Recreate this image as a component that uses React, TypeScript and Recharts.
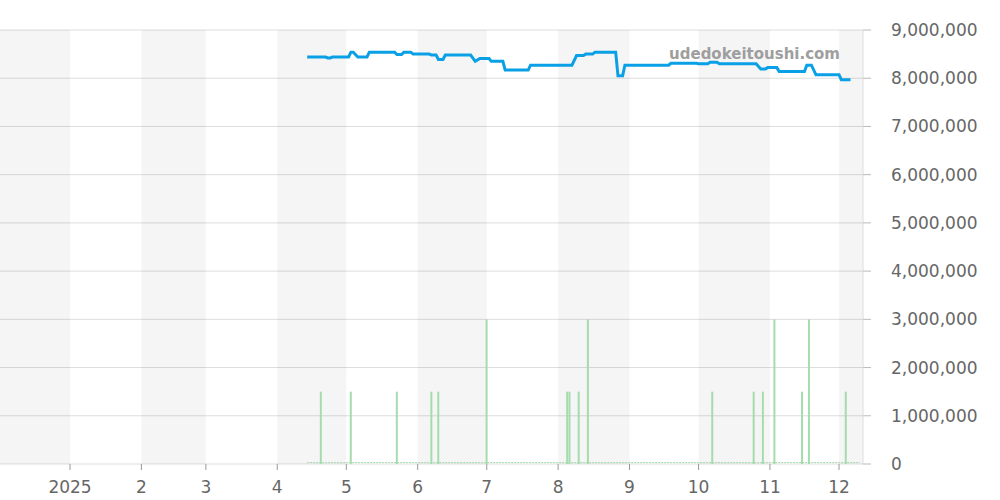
import { Bar, CartesianGrid, ComposedChart, Line, ReferenceArea, ReferenceLine, XAxis, YAxis } from 'recharts'

// price levels: each level runs from levelFrom to levelTo (2025 dates)
const levelFrom = [
  '04-14', '04-23', '04-25', '05-03', '05-06', '05-11', '05-23', '05-26', '05-30', '06-07',
  '06-10', '06-13', '06-26', '06-28', '07-03', '07-09', '07-20', '08-09', '08-13', '08-17',
  '08-27', '08-30', '09-19', '10-01', '10-06', '10-10', '10-28', '10-31', '11-05', '11-17',
  '11-21', '12-02',
]
const levelTo = [
  '04-22', '04-24', '05-02', '05-04', '05-10', '05-22', '05-25', '05-29', '06-06', '06-09',
  '06-12', '06-24', '06-26', '07-02', '07-08', '07-19', '08-07', '08-12', '08-16', '08-26',
  '08-29', '09-18', '09-30', '10-05', '10-09', '10-26', '10-30', '11-04', '11-16', '11-19',
  '12-01', '12-06',
]
const levelPrice = [
  8440000, 8420000, 8440000, 8540000, 8440000, 8540000, 8490000, 8540000, 8500000, 8480000,
  8390000, 8480000, 8350000, 8410000, 8350000, 8170000, 8270000, 8470000, 8500000, 8540000,
  8050000, 8270000, 8310000, 8300000, 8330000, 8300000, 8190000, 8220000, 8140000, 8270000,
  8070000, 7970000,
]

// volume spikes
const volDates = [
  '04-20', '05-03', '05-23', '06-07', '06-10', '07-01', '08-05', '08-06', '08-10', '08-14',
  '10-07', '10-25', '10-29', '11-03', '11-15', '11-18', '12-04',
]
const volValues = [
  1500000, 1500000, 1500000, 1500000, 1500000, 3000000, 1500000, 1500000, 1500000, 3000000,
  1500000, 1500000, 1500000, 3000000, 1500000, 3000000, 1500000,
]

const yTicks = [0, 1000000, 2000000, 3000000, 4000000, 5000000, 6000000, 7000000, 8000000, 9000000]

const ts = (md: string) => Date.parse(`2025-${md}T00:00:00Z`)
const xMin = Date.UTC(2024, 11, 1, 14)
const xMax = Date.UTC(2025, 11, 11, 10)
const monthTicks = Array.from({ length: 12 }, (_, i) => Date.UTC(2025, i, 1))
const shadedMonths = [
  [xMin, Date.UTC(2025, 0, 1)],
  [Date.UTC(2025, 1, 1), Date.UTC(2025, 2, 1)],
  [Date.UTC(2025, 3, 1), Date.UTC(2025, 4, 1)],
  [Date.UTC(2025, 5, 1), Date.UTC(2025, 6, 1)],
  [Date.UTC(2025, 7, 1), Date.UTC(2025, 8, 1)],
  [Date.UTC(2025, 9, 1), Date.UTC(2025, 10, 1)],
  [Date.UTC(2025, 11, 1), xMax],
]

type Row = { t: number; price?: number; vol?: number }

const rows: Row[] = []
levelPrice.forEach((p, i) => {
  rows.push({ t: ts(levelFrom[i]), price: p })
  if (levelTo[i] !== levelFrom[i]) rows.push({ t: ts(levelTo[i]), price: p })
})
volDates.forEach((d, i) => rows.push({ t: ts(d) + 1, vol: volValues[i] }))
rows.sort((a, b) => a.t - b.t)

const font = { fontFamily: 'DejaVu Sans', fontSize: 17, fill: '#666' }

export default function App() {
  const formatTick = (v: number) => {
    const d = new Date(v)
    return d.getUTCMonth() === 0 ? String(d.getUTCFullYear()) : String(d.getUTCMonth() + 1)
  }

  return (
    <div style={{ position: 'absolute', left: 0, top: 0, width: 1000, height: 500, background: '#fff' }}>
      <ComposedChart
        width={1000}
        height={500}
        data={rows}
        margin={{ top: 30, right: 0, bottom: 0, left: 0 }}
      >
        {shadedMonths.map(([a, b], i) => (
          <ReferenceArea key={`band-${i}`} x1={a} x2={b} fill="#000" fillOpacity={0.04} stroke="none" />
        ))}
        <CartesianGrid vertical={false} stroke="#ddd" />
        <XAxis
          dataKey="t"
          type="number"
          scale="time"
          domain={[xMin, xMax]}
          allowDataOverflow
          ticks={monthTicks}
          tickFormatter={formatTick}
          tick={font}
          tickLine={{ stroke: '#999' }}
          tickSize={6}
          tickMargin={11}
          axisLine={false}
          height={36}
        />
        <YAxis
          orientation="right"
          width={137}
          domain={[0, 9000000]}
          ticks={yTicks}
          tickFormatter={(v: number) => v.toLocaleString('en-US')}
          tick={{ ...font, textAnchor: 'start' }}
          tickLine={{ stroke: '#bbb' }}
          tickSize={8}
          tickMargin={20}
          axisLine={{ stroke: '#ddd' }}
        />
        <ReferenceLine
          segment={[
            { x: ts('04-14'), y: 30000 },
            { x: ts('12-10'), y: 30000 },
          ]}
          stroke="#a5dcae"
          strokeDasharray="2 1"
          strokeWidth={1}
        />
        <Bar dataKey="vol" barSize={2} fill="#a5dcae" isAnimationActive={false} />
        <Line
          dataKey="price"
          type="linear"
          stroke="#0aa0e6"
          strokeWidth={3}
          dot={false}
          connectNulls
          isAnimationActive={false}
        />
      </ComposedChart>
      <div
        style={{
          position: 'absolute',
          right: 160,
          top: 45,
          fontFamily: 'DejaVu Sans',
          fontWeight: 'bold',
          fontSize: 15,
          color: '#9e9e9e',
        }}
      >
        udedokeitoushi.com
      </div>
    </div>
  )
}
